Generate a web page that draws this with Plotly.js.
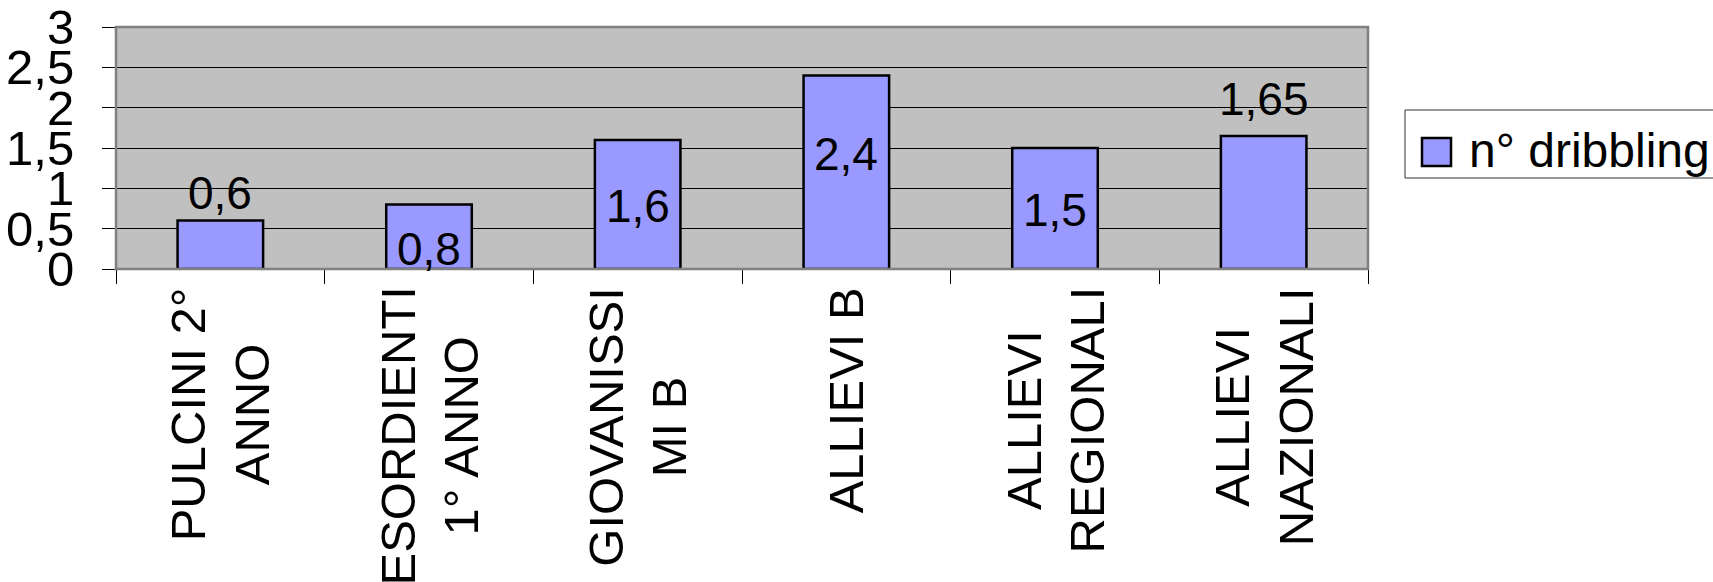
<!DOCTYPE html>
<html>
<head>
<meta charset="utf-8">
<script src="https://cdn.plot.ly/plotly-3.0.1.min.js"></script>
<style>html,body{margin:0;padding:0;background:#fff;}#chart{width:1713px;height:582px;}</style>
</head>
<body>
<div id="chart"></div>
<script>
// ---- data ----
const categories = ['PULCINI 2° ANNO', 'ESORDIENTI 1° ANNO', 'GIOVANISSIMI B', 'ALLIEVI B', 'ALLIEVI REGIONALI', 'ALLIEVI NAZIONALI'];
const categoryLabels = ['PULCINI 2°<br>ANNO', 'ESORDIENTI<br>1° ANNO', 'GIOVANISSI<br>MI B', 'ALLIEVI B', 'ALLIEVI<br>REGIONALI', 'ALLIEVI<br>NAZIONALI'];
const values = [0.6, 0.8, 1.6, 2.4, 1.5, 1.65];
const seriesName = 'n° dribbling';
const yTickVals = [0, 0.5, 1, 1.5, 2, 2.5, 3];
const yTickText = ['0', '0,5', '1', '1,5', '2', '2,5', '3'];

// ---- style ----
const FONT = 'Liberation Sans, Arial, sans-serif';
const BAR_FILL = '#9999FF';
const labelShift = [28, -45, -66, -79, -62, 37]; // pixel offsets of value labels vs bar top

const fmt = v => String(v).replace('.', ',');

const trace = {
  type: 'bar',
  x: categories,
  y: values,
  name: seriesName,
  marker: {color: BAR_FILL, line: {color: '#000', width: 2.5}},
  hoverinfo: 'x+y',
  showlegend: false
};

const annotations = [];
values.forEach((v, i) => {
  annotations.push({
    x: categories[i], y: v, xref: 'x', yref: 'y',
    text: fmt(v), showarrow: false, yanchor: 'middle', xanchor: 'center',
    yshift: labelShift[i],
    font: {family: FONT, size: 46, color: '#000'}
  });
  annotations.push({
    x: categories[i], y: 0, xref: 'x', yref: 'paper',
    text: categoryLabels[i], showarrow: false, textangle: -90,
    xanchor: 'center', yanchor: 'top', align: 'center', yshift: -16,
    font: {family: FONT, size: 49, color: '#000'}
  });
});
// legend text
annotations.push({
  x: 1, y: 1, xref: 'paper', yref: 'paper', xshift: 99, yshift: -123,
  xanchor: 'left', yanchor: 'middle', showarrow: false,
  text: seriesName, font: {family: FONT, size: 48, color: '#000'}
});

const shapes = [
  // plot border
  {type: 'rect', xref: 'paper', yref: 'paper', x0: 0, x1: 1, y0: 0, y1: 1,
   line: {color: '#808080', width: 2.5}, layer: 'above'},
  // legend box
  {type: 'rect', xref: 'paper', yref: 'paper', xsizemode: 'pixel', ysizemode: 'pixel',
   xanchor: 1, yanchor: 1, x0: 37, x1: 360, y0: -83, y1: -151,
   line: {color: '#333', width: 1}, fillcolor: '#fff'},
  // legend symbol
  {type: 'rect', xref: 'paper', yref: 'paper', xsizemode: 'pixel', ysizemode: 'pixel',
   xanchor: 1, yanchor: 1, x0: 54, x1: 83, y0: -111, y1: -139,
   line: {color: '#000', width: 2.5}, fillcolor: BAR_FILL}
];

const layout = {
  width: 1713, height: 582,
  margin: {l: 116, r: 345, t: 27, b: 313, pad: 0},
  paper_bgcolor: '#fff',
  plot_bgcolor: '#C0C0C0',
  separators: ',.',
  bargap: 0.59,
  showlegend: false,
  font: {family: FONT, size: 46, color: '#000'},
  xaxis: {
    type: 'category',
    showticklabels: false,
    ticks: 'outside', tickson: 'boundaries', ticklen: 14, tickwidth: 1, tickcolor: '#000',
    showline: true, linecolor: '#000', linewidth: 1,
    showgrid: false, zeroline: false
  },
  yaxis: {
    range: [0, 3],
    tickvals: yTickVals, ticktext: yTickText,
    ticks: 'outside', ticklen: 13, tickwidth: 1, tickcolor: '#000',
    ticklabelstandoff: 18,
    tickfont: {family: FONT, size: 49, color: '#000'},
    showgrid: true, gridcolor: '#000', gridwidth: 1,
    showline: false, zeroline: false
  },
  annotations: annotations,
  shapes: shapes
};

Plotly.newPlot('chart', [trace], layout, {staticPlot: true, displayModeBar: false});
</script>
</body>
</html>
